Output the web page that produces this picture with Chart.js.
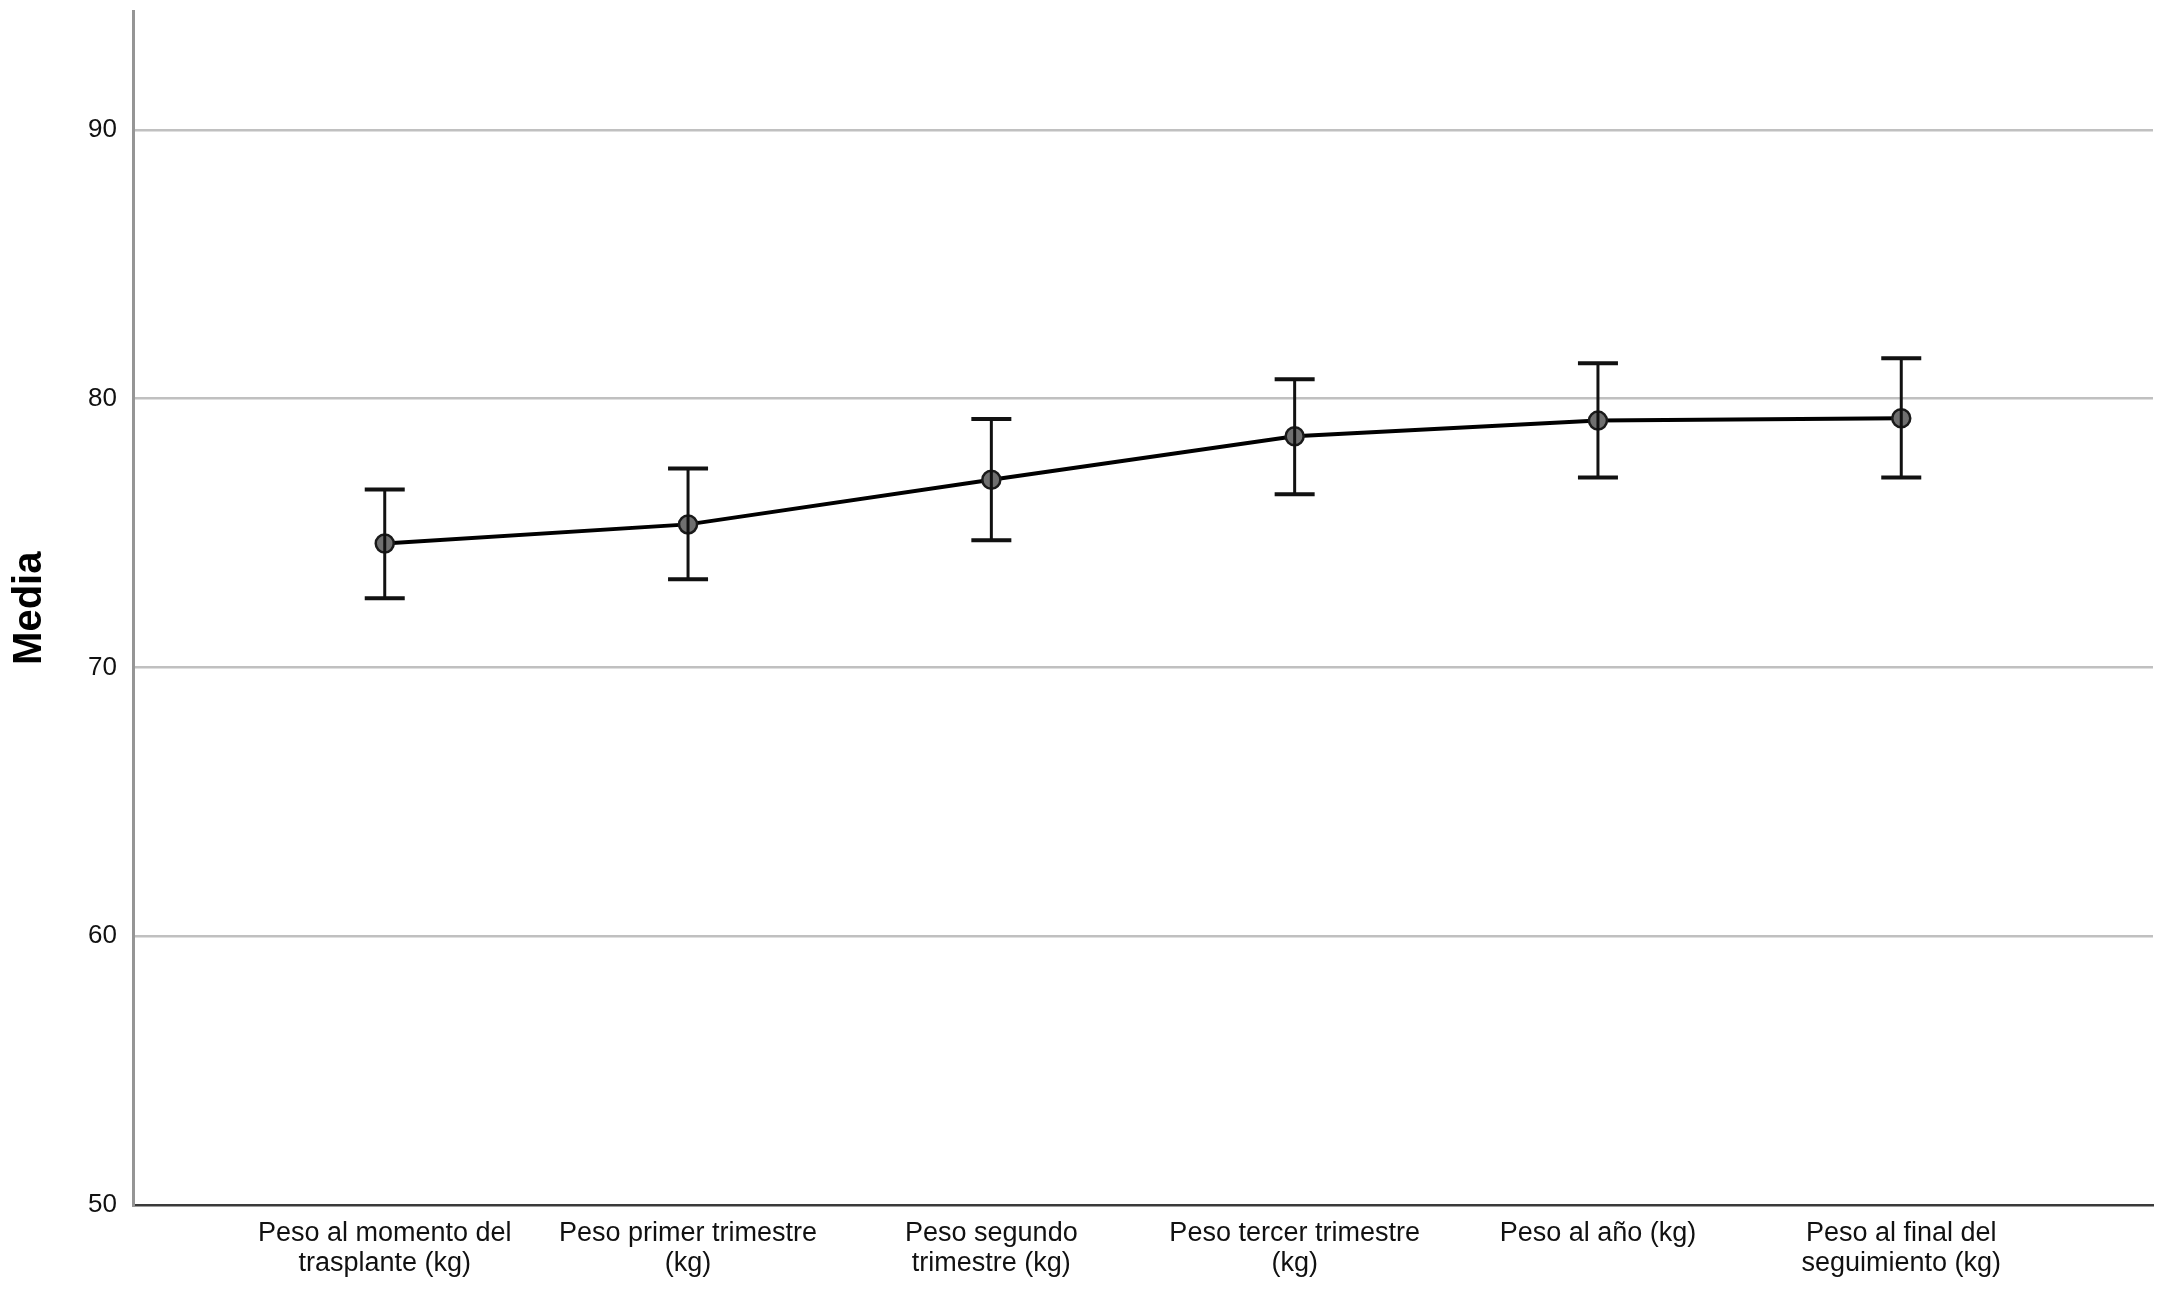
<!DOCTYPE html>
<html>
<head>
<meta charset="utf-8">
<script src="https://cdn.jsdelivr.net/npm/chart.js@4.4.1/dist/chart.umd.min.js"></script>
<style>
  html, body { margin: 0; padding: 0; background: #fff; }
  #wrap { width: 2167px; height: 1292px; }
</style>
</head>
<body>
<div id="wrap"><canvas id="myChart"></canvas></div>
<script>
// categorias del eje x (etiquetas en dos lineas)
var categories = [
  ['Peso al momento del', 'trasplante (kg)'],
  ['Peso primer trimestre', '(kg)'],
  ['Peso segundo', 'trimestre (kg)'],
  ['Peso tercer trimestre', '(kg)'],
  ['Peso al año (kg)'],
  ['Peso al final del', 'seguimiento (kg)']
];
var means = [74.61, 75.32, 76.98, 78.60, 79.18, 79.27];
var lower = [72.57, 73.28, 74.73, 76.44, 77.06, 77.06];
var upper = [76.62, 77.40, 79.24, 80.72, 81.31, 81.50];
var yTicks = [50, 60, 70, 80, 90];

var FONT = '"Liberation Sans", Arial, sans-serif';

// barras de error (IC) dibujadas con las escalas del grafico
var errorBars = {
  id: 'errorBars',
  afterDatasetsDraw: function(chart) {
    var ctx = chart.ctx;
    var x = chart.scales.x, y = chart.scales.y;
    ctx.save();
    ctx.strokeStyle = '#111';
    lower.forEach(function(lo, i) {
      var px = x.getPixelForValue(i);
      var yl = y.getPixelForValue(lo);
      var yu = y.getPixelForValue(upper[i]);
      ctx.lineWidth = 3;
      ctx.beginPath();
      ctx.moveTo(px, yl);
      ctx.lineTo(px, yu);
      ctx.stroke();
      ctx.lineWidth = 4;
      ctx.beginPath();
      ctx.moveTo(px - 20, yl); ctx.lineTo(px + 20, yl);
      ctx.moveTo(px - 20, yu); ctx.lineTo(px + 20, yu);
      ctx.stroke();
    });
    ctx.restore();
  }
};

var ctx = document.getElementById('myChart').getContext('2d');
var chart = new Chart(ctx, {
  type: 'line',
  data: {
    datasets: [{
      data: means.map(function(m, i) { return {x: i, y: m}; }),
      borderColor: '#000',
      borderWidth: 4,
      tension: 0,
      pointRadius: 9,
      pointBorderWidth: 2.5,
      pointBackgroundColor: '#6f6f6f',
      pointBorderColor: '#1a1a1a',
      fill: false
    }]
  },
  options: {
    responsive: true,
    maintainAspectRatio: false,
    devicePixelRatio: 1,
    animation: false,
    layout: { padding: { top: 4, right: 14, left: 0, bottom: 0 } },
    plugins: {
      legend: { display: false },
      tooltip: { enabled: false }
    },
    scales: {
      x: {
        type: 'linear',
        min: -0.83,
        max: 5.83,
        afterBuildTicks: function(axis) {
          axis.ticks = categories.map(function(c, i) { return {value: i}; });
        },
        afterFit: function(scale) { scale.height = 87; },
        grid: { color: 'rgba(0,0,0,0)', drawTicks: false },
        border: { display: true, color: '#3a3a3a', width: 2.5 },
        ticks: {
          autoSkip: false,
          maxRotation: 0,
          minRotation: 0,
          padding: 14,
          color: '#111',
          font: { family: FONT, size: 27, lineHeight: 1.1 },
          callback: function(value) { return categories[value]; }
        }
      },
      y: {
        min: 50,
        max: 94.4,
        afterBuildTicks: function(axis) {
          axis.ticks = yTicks.map(function(v) { return {value: v}; });
        },
        afterFit: function(scale) {
          scale.width = 133;
          scale.paddingTop = 0;
          scale.paddingBottom = 0;
        },
        grid: {
          color: function(c) { return c.tick && c.tick.value === 50 ? 'rgba(0,0,0,0)' : '#c0c0c0'; },
          lineWidth: 2.5,
          drawTicks: false
        },
        border: { display: true, color: '#959595', width: 3 },
        ticks: {
          padding: 16,
          color: '#111',
          font: { family: FONT, size: 26 }
        },
        title: {
          display: true,
          text: 'Media',
          color: '#000',
          padding: { top: 6, bottom: 0 },
          font: { family: FONT, size: 40, weight: 'bold' }
        }
      }
    }
  },
  plugins: [errorBars]
});
</script>
</body>
</html>
